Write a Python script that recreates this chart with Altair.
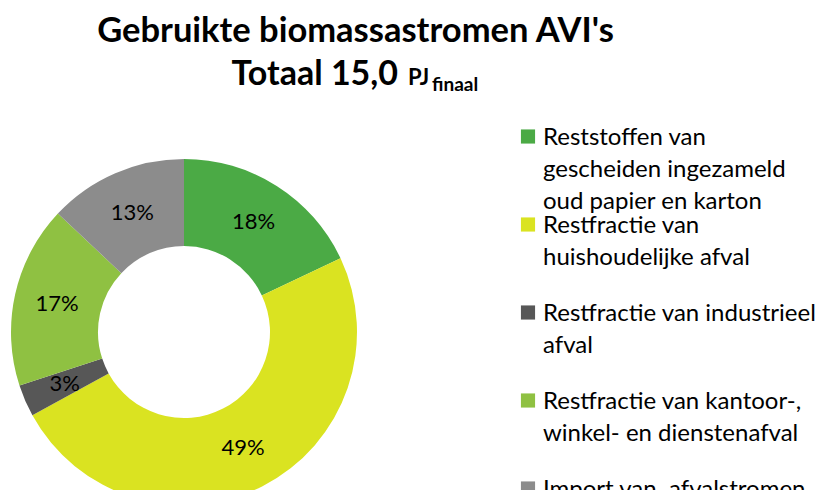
import altair as alt
import pandas as pd

categories = [
    "Reststoffen van gescheiden ingezameld oud papier en karton",
    "Restfractie van huishoudelijke afval",
    "Restfractie van industrieel afval",
    "Restfractie van kantoor-, winkel- en dienstenafval",
    "Import van  afvalstromen",
]
legend_labels = [
    "Reststoffen van\ngescheiden ingezameld\noud papier en karton",
    "Restfractie van\nhuishoudelijke afval",
    "Restfractie van industrieel\nafval",
    "Restfractie van kantoor-,\nwinkel- en dienstenafval",
    "Import van\u00a0 afvalstromen",
]
values = [18, 49, 3, 17, 13]
label_texts = ["18%", "49%", "3%", "17%", "13%"]
colors = ["#4BAA45", "#DAE321", "#575757", "#8FC142", "#8C8C8C"]

title_line1 = "Gebruikte biomassastromen AVI's"
title_main = "Totaal 15,0"
title_unit = "PJ"
title_sub = "finaal"

df = pd.DataFrame({
    "cat": categories,
    "value": values,
    "idx": list(range(len(categories))),
    "label": label_texts,
    "legend": legend_labels,
})

color = alt.Color("cat:N", scale=alt.Scale(domain=categories, range=colors), legend=None)
cx, cy = 176, 324

base = alt.Chart(df).encode(
    theta=alt.Theta("value:Q", stack=True),
    order=alt.Order("idx:Q"),
    x=alt.value(cx),
    y=alt.value(cy),
)
arcs = base.mark_arc(outerRadius=173, innerRadius=86).encode(color=color)
labels = base.mark_text(radius=130, font="Lato", fontSize=22, color="#000000").encode(text="label:N")

ly = alt.Y("idx:Q", scale=alt.Scale(domain=[0, 4], range=[128.5, 480.5], nice=False, zero=False), axis=None)
squares = alt.Chart(df).mark_square(size=200, opacity=1).encode(x=alt.value(520), y=ly, color=color)
legtext = alt.Chart(df).mark_text(
    align="left", baseline="alphabetic", dy=8, font="Lato", fontSize=24,
    lineBreak="\n", lineHeight=32, color="#000000"
).encode(x=alt.value(535), y=ly, text="legend:N")


def title_text(txt, x, y, size, align):
    return alt.Chart(pd.DataFrame({"t": [txt]})).mark_text(
        align=align, baseline="alphabetic", font="Lato", fontWeight="bold",
        fontSize=size, color="#000000"
    ).encode(x=alt.value(x), y=alt.value(y), text="t:N")


t1 = title_text(title_line1, 347.5, 34, 34.5, "center")
t2 = title_text(title_main, 390, 77, 34, "right")
t3 = title_text(title_unit, 400, 77, 22, "left")
t4 = title_text(title_sub, 424, 83, 19, "left")

chart = alt.layer(arcs, labels, squares, legtext, t1, t2, t3, t4).properties(
    width=811, height=482, autosize=alt.AutoSizeParams(type="none"), padding=0
).configure_view(strokeWidth=0)

chart.save("out.html", embed_options={"renderer": "svg", "actions": False})
